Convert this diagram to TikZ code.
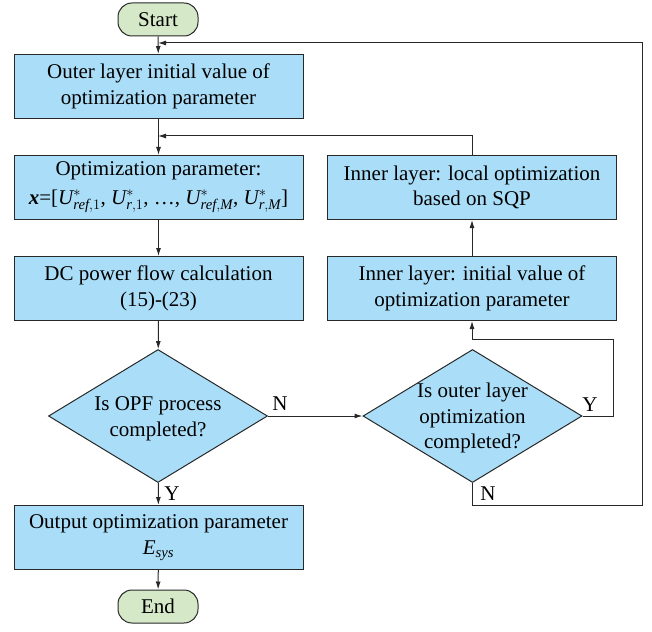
\documentclass[tikz,border=0pt]{standalone}
\usepackage{amsmath}
\usepackage{fontspec}
\setmainfont{Liberation Serif}
\usetikzlibrary{shapes.geometric,arrows.meta}
\definecolor{boxblue}{RGB}{170,222,248}
\definecolor{termgreen}{RGB}{213,232,200}
\definecolor{linegray}{RGB}{40,40,40}
\begin{document}
\begin{tikzpicture}[x=1pt, y=1pt, node distance={101pt}, line width=1pt, draw=linegray,
			every node/.style={font=\fontsize{21}{25.5}\selectfont},
			term/.style={draw=linegray, fill=termgreen, rounded corners=14pt, minimum width=80pt, minimum height=33pt, inner sep=0pt},
			proc/.style={draw=linegray, fill=boxblue, minimum width=289pt, minimum height=64pt, inner sep=2pt, align=center},
			decide/.style={draw=linegray, fill=boxblue, diamond, minimum width=219pt, minimum height=133pt, inner sep=0pt},
			letter/.style={inner sep=0pt},
			>={Latex[length=8pt,width=5pt]}]
			
			\useasboundingbox (0,0) rectangle (652,-631);
			
			\node[term] (1) at (158,-19.5) {Start};
			\node[proc] (2) at (158.5,-86.5) {Outer layer initial value of\\optimization parameter};
			\node[proc] (3) [below of=2] {Optimization parameter:\\[3pt]\textit{\textbf{x}}=[$\textit{U}^{*}_{\textit{ref},1}$, $\textit{U}^{*}_{\textit{r},1}$, \dots, $\textit{U}^{*}_{\textit{ref},\textit{M}}$, $\textit{U}^{*}_{\textit{r},\textit{M}}$]};
			\node[proc] (4) [below of=3] {DC power flow calculation\\(15)-(23)};
			\node[decide] (5) at (158,-416) [label={[align=center, yshift=-3pt]center:Is OPF process\\completed?}] {};
			\node[proc] (6) at (158.5,-537.5) {Output optimization parameter\\$\textit{E}_{\textit{sys}}$};
			\node[term] (7) at (158,-606.5) {End};
			\node[proc] (10) [right of=3, node distance={313.5pt}] {Inner layer: local optimization\\based on SQP};
			\node[proc] (9) [below of=10] {Inner layer: initial value of\\optimization parameter};
			\node[decide] (8) at (472.5,-416) [label={[align=center, yshift=-2pt]center:Is outer layer\\optimization\\completed?}] {};
			
			\coordinate (j1) at (158,-43);
			\coordinate (j2) at (158,-136);
			\coordinate (yr) at (613,-339);
			\coordinate (nr) at (642,-505);
			
			\draw[->] (1) -- (2);
			\draw[->] (2) -- (3);
			\draw[->] (3) -- (4);
			\draw[->] (4) -- (5);
			\draw[->] (5) -- (6);
			\draw[->] (6) -- (7);
			\draw[->] (5) -- (8);
			\draw[->] (9) -- (10);
			\draw[->] (8.east) -| (yr) -| (9.south);
			\draw[->] (8.south) |- (nr) |- (j1);
			\draw[->] (10.north) |- (j2);
			
			\node[letter] (n1) at (280,-404) {N};
			\node[letter] (y1) at (172,-494) {Y};
			\node[letter] (y2) at (590,-405) {Y};
			\node[letter] (n2) at (488,-494) {N};
		\end{tikzpicture}
\end{document}
